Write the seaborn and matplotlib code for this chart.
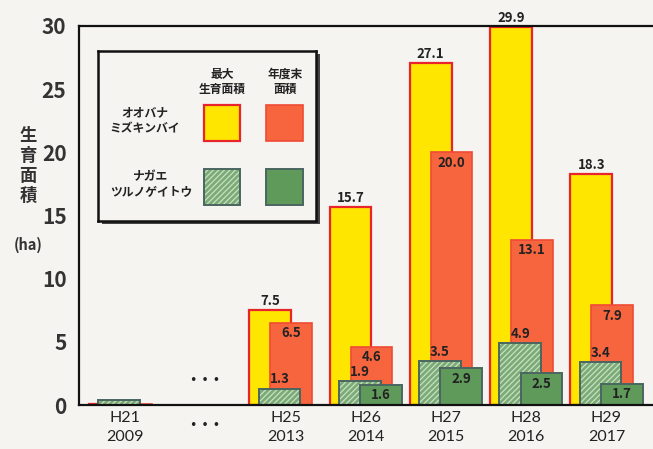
import numpy as np
import pandas as pd
import matplotlib
matplotlib.use("Agg")
import matplotlib.pyplot as plt
from matplotlib.patches import Rectangle
import seaborn as sns

# ---------------- data ----------------
categories = ["H21\n2009", "…", "H25\n2013", "H26\n2014", "H27\n2015", "H28\n2016", "H29\n2017"]
oobana_max = [0.1, np.nan, 7.5, 15.7, 27.1, 29.9, 18.3]   # オオバナミズキンバイ 最大生育面積
oobana_end = [0.1, np.nan, 6.5, 4.6, 20.0, 13.1, 7.9]     # オオバナミズキンバイ 年度末面積
nagae_max = [0.4, np.nan, 1.3, 1.9, 3.5, 4.9, 3.4]        # ナガエツルノゲイトウ 最大生育面積
nagae_end = [np.nan, np.nan, np.nan, 1.6, 2.9, 2.5, 1.7]  # ナガエツルノゲイトウ 年度末面積
yticks = [0, 5, 10, 15, 20, 25, 30]

# ---------------- style ----------------
sns.set_theme(style="white")
plt.rcParams["font.family"] = ["Liberation Sans Narrow", "Noto Sans CJK JP", "DejaVu Sans"]
plt.rcParams["hatch.linewidth"] = 0.9

BG = "#f5f4f1"
YELLOW = "#ffe600"
YEDGE = "#e8252a"
RED = "#f7653f"
REDGE = "#ef4a36"
GHATCH = "#7aab76"
GHLINE = "#c9e0c2"
GSOLID = "#5f9a5b"
GEDGE = "#4a6660"
TXT = "#222222"

W, H = 653, 449
fig = plt.figure(figsize=(W / 100, H / 100), dpi=100, facecolor=BG)
ax = fig.add_axes([79 / W, 1 - 405 / H, 1 - 79 / W, (405 - 26) / H])
ax.set_facecolor(BG)

width = 0.52


def draw(values, offset, **kw):
    df = pd.DataFrame({"cat": categories, "val": values}).dropna()
    n0 = len(ax.patches)
    sns.barplot(data=df, x="cat", y="val", order=categories, width=width,
                errorbar=None, saturation=1, ax=ax, **kw)
    new = ax.patches[n0:]
    for p in new:
        p.set_x(p.get_x() + offset)
    return new, df


def labels(patches, df, where):
    for p, (_, row) in zip(patches, df.iterrows()):
        if row["cat"].startswith("H21"):
            continue
        xc = p.get_x() + p.get_width() / 2
        h = p.get_height()
        if where == "above":
            ax.annotate(f"{row['val']:.1f}", (xc, h), xytext=(0, 1.5),
                        textcoords="offset points", ha="center", va="bottom",
                        fontsize=9.5, fontweight="bold", color=TXT)
        else:
            ax.annotate(f"{row['val']:.1f}", (xc, h), xytext=(0, -2.5),
                        textcoords="offset points", ha="center", va="top",
                        fontsize=9.5, fontweight="bold", color=TXT)


p1, d1 = draw(oobana_max, -0.19, color=YELLOW, edgecolor=YEDGE, linewidth=1.6)
p2, d2 = draw(oobana_end, 0.07, color=RED, edgecolor=REDGE, linewidth=1.2)
p3, d3 = draw(nagae_max, -0.075, color=GHATCH, edgecolor=GHLINE, linewidth=0, hatch="//////")
p3b, _ = draw(nagae_max, -0.075, fill=False, edgecolor=GEDGE, linewidth=1.4)
p4, d4 = draw(nagae_end, 0.19, color=GSOLID, edgecolor=GEDGE, linewidth=1.4)

labels(p1, d1, "above")
labels(p2, d2, "inside")
labels(p3, d3, "above")
labels(p4, d4, "inside")

# dots inside plot for the skipped years
ax.text(1, 1.9, "• • •", ha="center", va="center", fontsize=9, color=TXT,
        family=["DejaVu Sans"])

# ---------------- axes ----------------
ax.set_xlim(-0.574, 6.58)
ax.set_ylim(0, 30)
ax.set_yticks(yticks)
ax.set_yticklabels([str(v) for v in yticks], fontsize=15, fontweight="bold", color="#333333")
ax.set_xticklabels(["H21\n2009", "", "H25\n2013", "H26\n2014", "H27\n2015", "H28\n2016", "H29\n2017"],
                   fontsize=11.5, color="#222222", family=["Lato", "DejaVu Sans"], linespacing=1.5)
ax.annotate("• • •", (1, 0), xytext=(0, -15), textcoords="offset points", ha="center",
            va="center", fontsize=9, color=TXT, family=["DejaVu Sans"], annotation_clip=False)
ax.tick_params(axis="both", length=0)
ax.tick_params(axis="y", pad=9)
ax.tick_params(axis="x", pad=4)
ax.set_xlabel("")
ax.set_ylabel("")
for s in ["left", "bottom", "top"]:
    ax.spines[s].set_visible(True)
    ax.spines[s].set_color("#111111")
    ax.spines[s].set_linewidth(1.6)
ax.spines["right"].set_visible(False)

# y-axis title (vertical Japanese)
fig.text(28 / W, 1 - 166 / H, "生\n育\n面\n積", ha="center", va="center", fontsize=12.5,
         fontweight="bold", color="#333333", linespacing=1.15,
         family=["Noto Sans CJK JP", "DejaVu Sans"])
fig.text(28 / W, 1 - 245 / H, "(ha)", ha="center", va="center", fontsize=10.5,
         fontweight="bold", color="#333333", family=["Noto Sans CJK JP", "DejaVu Sans"])

# ---------------- legend box ----------------
lx0, lx1, ly0, ly1 = 98, 316, 51, 221
# shadow
fig.patches.append(Rectangle((lx0 / W + 4 / W, 1 - (ly1 + 3) / H), (lx1 - lx0) / W, (ly1 - ly0) / H,
                             transform=fig.transFigure, facecolor="#444444", edgecolor="none", zorder=5))
lg = fig.add_axes([lx0 / W, 1 - ly1 / H, (lx1 - lx0) / W, (ly1 - ly0) / H], zorder=6)
lg.set_facecolor(BG)
lg.set_xlim(lx0, lx1)
lg.set_ylim(ly1, ly0)
lg.set_xticks([])
lg.set_yticks([])
for s in lg.spines.values():
    s.set_visible(True)
    s.set_color("#111111")
    s.set_linewidth(1.8)

jp = ["Noto Sans CJK JP", "DejaVu Sans"]
lg.text(222, 82, "最大\n生育面積", ha="center", va="center", fontsize=8.5, fontweight="bold",
        color=TXT, family=jp, linespacing=1.2)
lg.text(285, 82, "年度末\n面積", ha="center", va="center", fontsize=8.5, fontweight="bold",
        color=TXT, family=jp, linespacing=1.2)
lg.text(145, 121, "オオバナ\nミズキンバイ", ha="center", va="center", fontsize=8.5, fontweight="bold",
        color=TXT, family=jp, linespacing=1.3)
lg.text(151, 185, "ナガエ\nツルノゲイトウ", ha="center", va="center", fontsize=8.5, fontweight="bold",
        color=TXT, family=jp, linespacing=1.3)

lg.add_patch(Rectangle((204, 105), 36, 36, facecolor=YELLOW, edgecolor=YEDGE, linewidth=1.6))
lg.add_patch(Rectangle((266, 105), 37, 36, facecolor=RED, edgecolor=REDGE, linewidth=1.2))
lg.add_patch(Rectangle((204, 169), 36, 36, facecolor=GHATCH, edgecolor=GHLINE, linewidth=0, hatch="//////"))
lg.add_patch(Rectangle((204, 169), 36, 36, fill=False, edgecolor=GEDGE, linewidth=1.4))
lg.add_patch(Rectangle((266, 169), 37, 36, facecolor=GSOLID, edgecolor=GEDGE, linewidth=1.4))

fig.savefig("out.png", dpi=100, facecolor=BG)
